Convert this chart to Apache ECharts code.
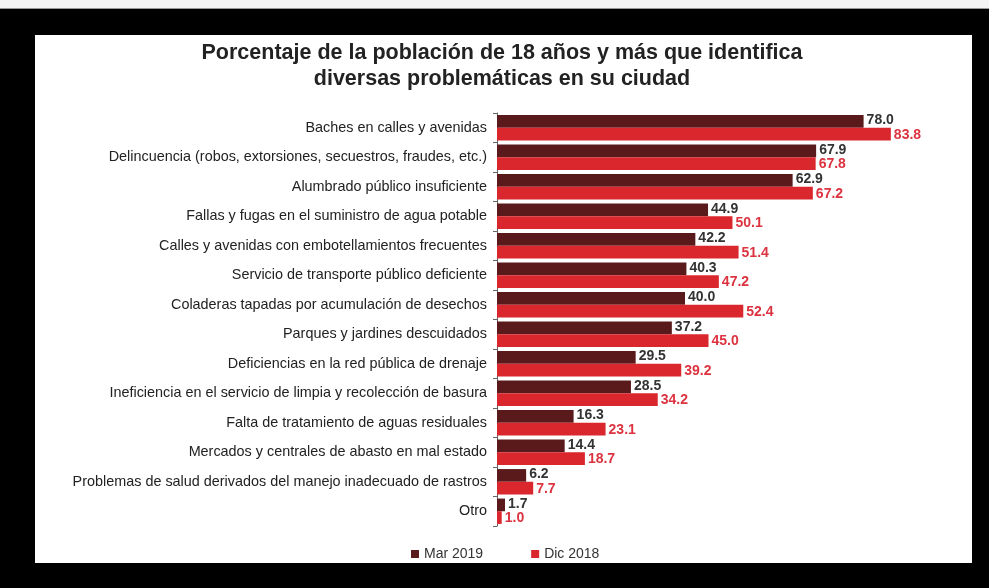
<!DOCTYPE html>
<html>
<head>
<meta charset="utf-8">
<script src="https://cdn.jsdelivr.net/npm/echarts@6/dist/echarts.min.js"></script>
<style>
html,body{margin:0;padding:0;background:#000;width:989px;height:588px;overflow:hidden;}
#topstrip{position:absolute;left:0;top:0;width:989px;height:8px;background:#f4f4f4;border-bottom:1px solid #999;}
#panel{position:absolute;left:35px;top:35px;width:937px;height:528px;background:#fff;}
#chart{position:absolute;left:0;top:0;width:989px;height:588px;}
</style>
</head>
<body>
<div id="topstrip"></div>
<div id="panel"></div>
<div id="chart"></div>
<script>
const categories = [
  "Baches en calles y avenidas",
  "Delincuencia (robos, extorsiones, secuestros, fraudes, etc.)",
  "Alumbrado público insuficiente",
  "Fallas y fugas en el suministro de agua potable",
  "Calles y avenidas con embotellamientos frecuentes",
  "Servicio de transporte público deficiente",
  "Coladeras tapadas por acumulación de desechos",
  "Parques y jardines descuidados",
  "Deficiencias en la red pública de drenaje",
  "Ineficiencia en el servicio de limpia y recolección de basura",
  "Falta de tratamiento de aguas residuales",
  "Mercados y centrales de abasto en mal estado",
  "Problemas de salud derivados del manejo inadecuado de rastros",
  "Otro"
];
const mar2019 = [78.0, 67.9, 62.9, 44.9, 42.2, 40.3, 40.0, 37.2, 29.5, 28.5, 16.3, 14.4, 6.2, 1.7];
const dic2018 = [83.8, 67.8, 67.2, 50.1, 51.4, 47.2, 52.4, 45.0, 39.2, 34.2, 23.1, 18.7, 7.7, 1.0];
const seriesNames = ["Mar 2019", "Dic 2018"];

const chart = echarts.init(document.getElementById('chart'), null, {renderer: 'canvas'});
const font = '"Liberation Sans", Arial, sans-serif';
chart.setOption({
  animation: false,
  backgroundColor: 'transparent',
  title: {
    text: 'Porcentaje de la población de 18 años y más que identifica\ndiversas problemáticas en su ciudad',
    left: 497,
    top: 35,
    textAlign: 'center',
    textStyle: {fontFamily: font, fontSize: 21.5, fontWeight: 'bold', color: '#222', lineHeight: 26}
  },
  legend: {
    data: seriesNames,
    bottom: 22,
    left: 406,
    itemWidth: 8,
    itemHeight: 8,
    itemGap: 48,
    icon: 'rect',
    textStyle: {fontFamily: font, fontSize: 14, color: '#333'}
  },
  grid: {left: 497, right: 22, top: 113, bottom: 62, containLabel: false},
  xAxis: {
    type: 'value', min: 0, max: 100, show: false
  },
  yAxis: {
    type: 'category',
    data: categories,
    inverse: true,
    axisLine: {show: true, lineStyle: {color: '#666', width: 1}},
    axisTick: {show: true, length: 4, lineStyle: {color: '#666'}},
    axisLabel: {fontFamily: font, fontSize: 14.4, color: '#222', margin: 10}
  },
  series: [
    {
      name: seriesNames[0], type: 'bar', data: mar2019,
      barGap: '0%', barCategoryGap: '14%',
      itemStyle: {color: '#5a1a1c'},
      label: {show: true, position: 'right', distance: 3, offset: [0, -1],
        formatter: p => p.value.toFixed(1),
        fontFamily: font, fontSize: 14, fontWeight: 'bold', color: '#333'}
    },
    {
      name: seriesNames[1], type: 'bar', data: dic2018,
      itemStyle: {color: '#da272d'},
      label: {show: true, position: 'right', distance: 3, offset: [0, 1],
        formatter: p => p.value.toFixed(1),
        fontFamily: font, fontSize: 14, fontWeight: 'bold', color: '#dc3340'}
    }
  ]
});
</script>
</body>
</html>
